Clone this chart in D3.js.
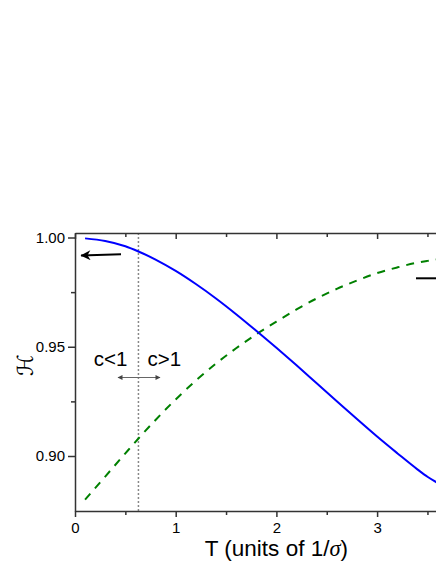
<!DOCTYPE html>
<html>
<head>
<meta charset="utf-8">
<script src="https://cdn.jsdelivr.net/npm/d3@7"></script>
<style>
  html, body { margin: 0; padding: 0; background: #fff; }
  svg { display: block; }
</style>
</head>
<body>
<svg id="chart" width="436" height="564"></svg>
<script>
// T values (units of 1/sigma)
var tVals = [0.1, 0.3, 0.5, 0.63, 0.8, 1.0, 1.2, 1.4, 1.6, 1.8, 2.0, 2.2, 2.4, 2.6, 2.8, 3.0, 3.2, 3.4, 3.5, 3.6]
// solid blue curve (left axis)
var blueVals = [0.9996, 0.9984, 0.9960, 0.9936, 0.9899, 0.9847, 0.9787, 0.9721, 0.9649, 0.9573, 0.9495, 0.9415, 0.9333, 0.9251, 0.9169, 0.9089, 0.9013, 0.8939, 0.8905, 0.8877]
// dashed green curve
var greenVals = [0.8800, 0.8906, 0.9012, 0.9080, 0.9165, 0.9259, 0.9345, 0.9423, 0.9493, 0.9557, 0.9615, 0.9671, 0.9721, 0.9765, 0.9803, 0.9837, 0.9863, 0.9885, 0.9893, 0.9900]

var xMajor = [0, 1, 2, 3]
var xMinor = [0.5, 1.5, 2.5, 3.5]
var yMajor = [0.90, 0.95, 1.00]
var yMinor = [0.925, 0.975]
var cBoundary = 0.63

var svg = d3.select('#chart')

var x = d3.scaleLinear().domain([0, 4]).range([75, 477.8])
var y = d3.scaleLinear().domain([0.87483, 1.00206]).range([511, 233])

var axisColor = '#333'
var tickFont = '"Liberation Sans", Arial, sans-serif'

var defs = svg.append('defs')

// clip for the plot data
defs.append('clipPath').attr('id', 'plotclip')
  .append('rect').attr('x', 75).attr('y', 233).attr('width', 420).attr('height', 278)

// dotted boundary line
svg.append('line')
  .attr('x1', x(cBoundary)).attr('x2', x(cBoundary))
  .attr('y1', y.range()[1]).attr('y2', y.range()[0])
  .attr('stroke', '#888')
  .attr('stroke-width', 1.5)
  .attr('stroke-dasharray', '2,2')

var line = d3.line()
  .x(function (d, i) { return x(tVals[i]) })
  .y(function (d) { return y(d) })
  .curve(d3.curveMonotoneX)

var plot = svg.append('g').attr('clip-path', 'url(#plotclip)')

plot.append('path')
  .datum(greenVals)
  .attr('d', line)
  .attr('fill', 'none')
  .attr('stroke', '#008000')
  .attr('stroke-width', 2)
  .attr('stroke-dasharray', '8,7')

plot.append('path')
  .datum(blueVals)
  .attr('d', line)
  .attr('fill', 'none')
  .attr('stroke', '#0000ff')
  .attr('stroke-width', 2)

// axes
function styleAxis (g) {
  g.selectAll('.domain').attr('stroke', axisColor).attr('stroke-width', 1.5)
  g.selectAll('.tick line').attr('stroke', axisColor).attr('stroke-width', 1.5)
  g.selectAll('.tick text').attr('fill', '#000').attr('font-size', 15).attr('font-family', tickFont)
}

var bottomAxis = svg.append('g').attr('transform', 'translate(0,' + y.range()[0] + ')')
bottomAxis.call(d3.axisBottom(x).tickValues(xMajor).tickFormat(d3.format('d')).tickSize(6).tickSizeOuter(0).tickPadding(5))
bottomAxis.append('g').call(d3.axisBottom(x).tickValues(xMinor).tickFormat('').tickSize(4).tickSizeOuter(0))
  .call(function (g) { g.select('.domain').remove() })
styleAxis(bottomAxis)

var topAxis = svg.append('g').attr('transform', 'translate(0,' + y.range()[1] + ')')
topAxis.call(d3.axisTop(x).tickValues(xMajor).tickFormat('').tickSize(-6).tickSizeOuter(0))
topAxis.append('g').call(d3.axisTop(x).tickValues(xMinor).tickFormat('').tickSize(-4).tickSizeOuter(0))
  .call(function (g) { g.select('.domain').remove() })
styleAxis(topAxis)

var leftAxis = svg.append('g').attr('transform', 'translate(' + x(0) + ',0)')
leftAxis.call(d3.axisLeft(y).tickValues(yMajor).tickFormat(d3.format('.2f')).tickSize(7).tickSizeOuter(0).tickPadding(3))
leftAxis.append('g').call(d3.axisLeft(y).tickValues(yMinor).tickFormat('').tickSize(4).tickSizeOuter(0))
  .call(function (g) { g.select('.domain').remove() })
styleAxis(leftAxis)

// axis titles
var xt = svg.append('text')
  .attr('x', x(2)).attr('y', 556)
  .attr('text-anchor', 'middle')
  .attr('font-family', tickFont)
  .attr('font-size', 22.5)
xt.append('tspan').text('T (units of 1/')
xt.append('tspan').attr('font-family', '"Liberation Serif", "DejaVu Serif", serif').attr('font-style', 'italic').text('σ')
xt.append('tspan').text(')')

svg.append('text')
  .attr('transform', 'translate(33,365) rotate(-90)')
  .attr('text-anchor', 'middle')
  .attr('font-family', '"DejaVu Serif", "DejaVu Sans", serif')
  .attr('font-size', 22)
  .text('ℋ')

// c<1 / c>1 annotation
svg.append('text').attr('x', x(cBoundary) - 11).attr('y', 366)
  .attr('text-anchor', 'end').attr('font-family', tickFont).attr('font-size', 20.5)
  .text('c<1')
svg.append('text').attr('x', x(cBoundary) + 9).attr('y', 366)
  .attr('text-anchor', 'start').attr('font-family', tickFont).attr('font-size', 20.5)
  .text('c>1')

defs.append('marker').attr('id', 'smallhead')
  .attr('viewBox', '0 0 10 10').attr('refX', 9).attr('refY', 5)
  .attr('markerWidth', 6).attr('markerHeight', 5).attr('markerUnits', 'userSpaceOnUse')
  .attr('orient', 'auto-start-reverse')
  .append('path').attr('d', 'M0,0 L10,5 L0,10 z').attr('fill', '#444')

svg.append('line')
  .attr('x1', 118).attr('x2', 160).attr('y1', 377.5).attr('y2', 377.5)
  .attr('stroke', '#666').attr('stroke-width', 1.2)
  .attr('marker-start', 'url(#smallhead)')
  .attr('marker-end', 'url(#smallhead)')

// arrow to the left axis
defs.append('marker').attr('id', 'bighead')
  .attr('viewBox', '0 0 10 10').attr('refX', 9.5).attr('refY', 5)
  .attr('markerWidth', 13).attr('markerHeight', 10).attr('markerUnits', 'userSpaceOnUse')
  .attr('orient', 'auto')
  .append('path').attr('d', 'M0,0 L10,5 L0,10 L3,5 z').attr('fill', '#000')

svg.append('line')
  .attr('x1', 121).attr('y1', 254.3).attr('x2', 81).attr('y2', 255.5)
  .attr('stroke', '#000').attr('stroke-width', 2)
  .attr('marker-end', 'url(#bighead)')

// arrow towards the right axis (cut off)
svg.append('line')
  .attr('x1', 416).attr('y1', 278.3).attr('x2', 440).attr('y2', 278.3)
  .attr('stroke', '#000').attr('stroke-width', 2)
</script>
</body>
</html>
